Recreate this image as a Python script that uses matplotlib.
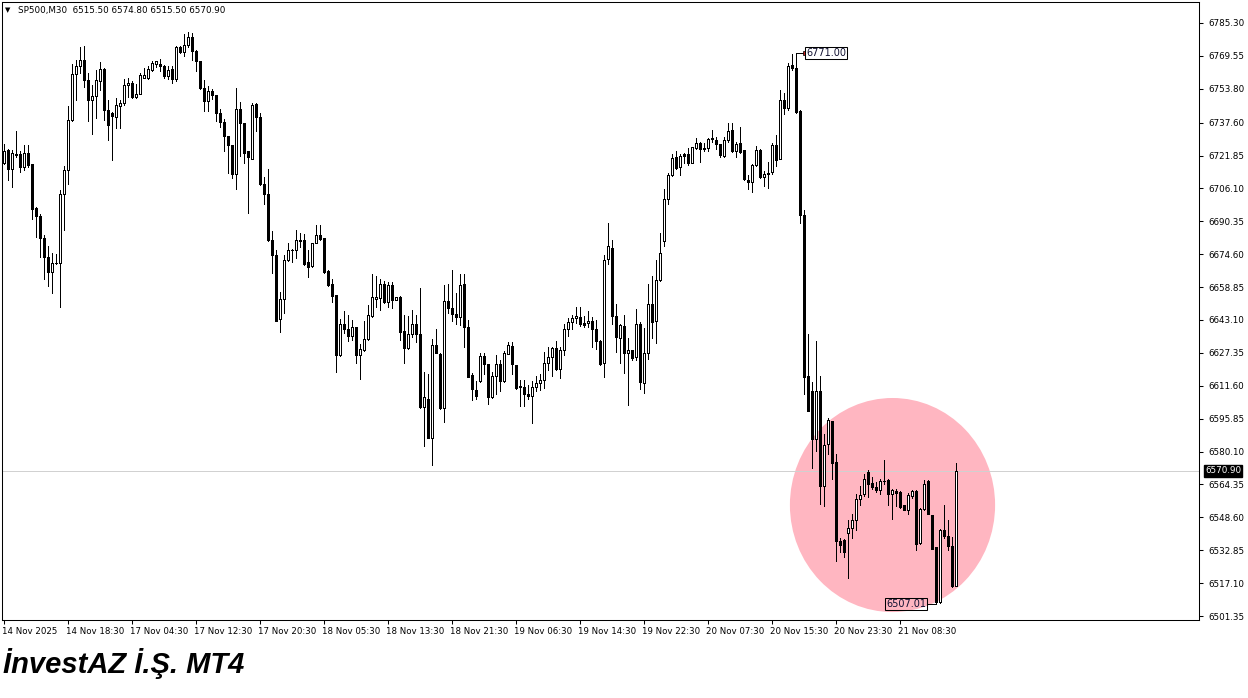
import matplotlib
matplotlib.use("Agg")
import matplotlib.pyplot as plt
import matplotlib.transforms as mtransforms
from matplotlib.patches import Ellipse
import numpy as np

opens = [
    6718.4, 6724.3, 6715.5, 6722.7, 6722.4, 6716.3, 6723.0, 6717.6, 6696.8, 6693.1,
    6682.4, 6673.4, 6665.9, 6670.4, 6670.4, 6703.5, 6715.0, 6739.0, 6761.1, 6764.6,
    6767.8, 6757.9, 6748.3, 6750.2, 6757.4, 6763.5, 6743.8, 6742.1, 6740.5, 6745.6,
    6746.9, 6755.4, 6756.5, 6749.8, 6751.5, 6759.2, 6759.2, 6762.9, 6765.6, 6765.6,
    6764.5, 6759.7, 6763.4, 6758.6, 6773.6, 6771.4, 6774.6, 6778.4, 6771.7, 6766.9,
    6754.4, 6748.0, 6752.7, 6750.8, 6742.0, 6738.0, 6731.1, 6726.8, 6712.9, 6743.9,
    6737.2, 6723.9, 6720.4, 6746.5, 6740.1, 6708.4, 6703.6, 6681.5, 6674.3, 6643.4,
    6653.2, 6671.6, 6676.4, 6676.7, 6681.2, 6681.2, 6670.8, 6669.1, 6680.1, 6683.8,
    6682.2, 6666.7, 6660.3, 6655.0, 6626.2, 6641.1, 6639.0, 6635.3, 6639.5, 6626.2,
    6628.9, 6634.2, 6644.9, 6653.3, 6653.4, 6660.3, 6651.8, 6659.8, 6652.9, 6654.2,
    6637.7, 6629.9, 6636.6, 6641.1, 6636.3, 6601.4, 6605.4, 6586.7, 6631.0, 6627.0,
    6601.1, 6652.3, 6648.6, 6645.9, 6644.6, 6660.3, 6639.5, 6616.6, 6609.7, 6613.9,
    6625.7, 6621.9, 6606.2, 6616.1, 6622.2, 6613.9, 6627.0, 6630.6, 6621.5, 6611.4,
    6610.8, 6607.6, 6606.6, 6610.8, 6612.7, 6614.3, 6622.6, 6625.2, 6629.5, 6619.4,
    6628.7, 6638.6, 6642.3, 6643.9, 6644.7, 6641.8, 6641.5, 6642.8, 6638.6, 6633.2,
    6622.4, 6672.5, 6677.8, 6644.8, 6634.6, 6640.0, 6627.2, 6628.5, 6625.3, 6641.0,
    6612.8, 6627.2, 6650.6, 6642.6, 6662.1, 6681.0, 6700.8, 6712.5, 6721.0, 6716.2,
    6722.6, 6722.6, 6718.4, 6725.3, 6727.7, 6725.3, 6725.3, 6730.0, 6729.5, 6727.3,
    6721.5, 6729.5, 6734.0, 6724.1, 6727.6, 6724.4, 6710.3, 6709.2, 6717.2, 6724.7,
    6711.6, 6713.2, 6714.0, 6726.8, 6720.4, 6748.4, 6744.4, 6765.2, 6763.6, 6743.3,
    6693.2, 6616.4, 6609.2, 6586.0, 6609.2, 6563.6, 6583.9, 6594.5, 6575.3, 6537.2,
    6537.9, 6541.1, 6543.7, 6547.5, 6557.6, 6559.7, 6570.4, 6565.1, 6563.2, 6561.9,
    6566.1, 6566.4, 6560.0, 6561.3, 6560.8, 6554.4, 6552.0, 6558.7, 6561.3, 6536.3,
    6552.8, 6566.1, 6549.6, 6534.4, 6508.0, 6542.7, 6539.5, 6534.7, 6515.5,
]
highs = [
    6727.2, 6725.0, 6724.6, 6733.6, 6724.0, 6726.7, 6727.0, 6717.6, 6697.1, 6693.9,
    6684.0, 6678.7, 6675.0, 6674.7, 6705.1, 6716.6, 6745.4, 6765.9, 6767.5, 6773.9,
    6774.2, 6761.4, 6755.5, 6763.0, 6766.5, 6763.8, 6748.6, 6742.9, 6749.6, 6748.5,
    6758.6, 6759.2, 6757.6, 6756.0, 6761.3, 6763.7, 6764.5, 6767.2, 6767.2, 6768.2,
    6765.0, 6764.5, 6764.5, 6774.1, 6774.1, 6780.0, 6781.0, 6780.5, 6772.5, 6767.2,
    6758.1, 6754.9, 6753.6, 6751.0, 6743.9, 6739.1, 6731.3, 6727.0, 6754.0, 6747.6,
    6737.4, 6724.2, 6746.8, 6746.9, 6742.3, 6711.6, 6715.6, 6685.7, 6676.7, 6656.4,
    6674.0, 6679.9, 6677.2, 6686.0, 6684.7, 6684.1, 6676.4, 6680.1, 6688.6, 6688.6,
    6682.4, 6666.9, 6662.5, 6655.2, 6643.8, 6647.5, 6645.4, 6643.3, 6639.7, 6631.5,
    6642.7, 6650.2, 6665.1, 6664.1, 6662.5, 6661.9, 6661.4, 6661.4, 6654.2, 6654.4,
    6645.4, 6644.9, 6647.8, 6645.4, 6658.2, 6618.2, 6617.4, 6634.2, 6639.0, 6627.2,
    6659.8, 6660.3, 6667.0, 6656.1, 6665.1, 6665.1, 6643.0, 6617.7, 6613.9, 6627.3,
    6627.3, 6622.1, 6618.2, 6626.2, 6624.1, 6628.3, 6632.6, 6632.7, 6621.7, 6614.6,
    6614.6, 6611.9, 6614.0, 6616.2, 6617.2, 6627.9, 6630.0, 6630.0, 6633.2, 6630.0,
    6641.2, 6643.9, 6645.5, 6649.2, 6649.2, 6645.0, 6647.6, 6644.7, 6643.1, 6633.4,
    6674.1, 6689.3, 6681.3, 6650.6, 6641.0, 6645.3, 6634.6, 6628.7, 6648.5, 6642.1,
    6639.4, 6660.2, 6664.0, 6672.0, 6684.8, 6705.6, 6713.6, 6722.6, 6724.2, 6722.6,
    6723.2, 6725.3, 6725.8, 6730.1, 6728.5, 6727.7, 6730.1, 6734.3, 6730.5, 6727.5,
    6730.5, 6737.2, 6737.2, 6728.4, 6735.3, 6724.6, 6712.4, 6717.7, 6726.3, 6724.9,
    6714.5, 6718.8, 6727.6, 6731.6, 6753.2, 6751.6, 6766.3, 6770.5, 6771.0, 6743.5,
    6695.9, 6636.4, 6613.2, 6633.2, 6616.4, 6588.4, 6596.4, 6594.7, 6578.8, 6538.5,
    6538.4, 6547.2, 6550.1, 6560.0, 6563.5, 6569.3, 6571.2, 6568.0, 6565.6, 6567.2,
    6576.0, 6567.2, 6562.4, 6562.4, 6561.0, 6554.6, 6560.3, 6561.9, 6561.5, 6553.3,
    6566.7, 6566.4, 6549.8, 6534.6, 6543.2, 6554.4, 6547.2, 6539.2, 6574.8,
]
lows = [
    6717.9, 6709.9, 6706.7, 6721.1, 6713.9, 6714.7, 6716.3, 6691.5, 6682.7, 6673.4,
    6662.7, 6659.5, 6655.8, 6670.0, 6649.1, 6686.2, 6708.3, 6738.5, 6748.3, 6761.4,
    6754.7, 6738.4, 6732.3, 6740.0, 6753.1, 6739.0, 6729.1, 6719.7, 6735.2, 6735.2,
    6746.1, 6750.1, 6749.3, 6749.3, 6751.3, 6758.9, 6758.6, 6762.1, 6764.0, 6762.4,
    6758.9, 6758.6, 6756.8, 6757.3, 6770.9, 6769.3, 6773.6, 6767.7, 6762.4, 6753.8,
    6743.2, 6743.2, 6748.7, 6738.5, 6735.3, 6724.1, 6713.5, 6711.3, 6705.8, 6721.5,
    6718.3, 6694.3, 6720.2, 6733.7, 6707.6, 6698.8, 6680.9, 6665.5, 6642.5, 6637.2,
    6646.3, 6671.3, 6670.8, 6672.9, 6678.0, 6669.2, 6663.9, 6668.6, 6679.8, 6681.4,
    6665.7, 6659.3, 6651.8, 6618.2, 6626.0, 6636.9, 6633.1, 6633.4, 6622.5, 6615.0,
    6628.3, 6633.7, 6644.6, 6649.1, 6647.8, 6651.3, 6649.1, 6648.6, 6652.9, 6633.7,
    6622.5, 6629.4, 6635.0, 6632.6, 6601.0, 6583.0, 6586.5, 6573.9, 6627.1, 6600.6,
    6594.2, 6646.5, 6642.7, 6641.1, 6640.6, 6630.2, 6615.6, 6604.6, 6605.4, 6613.6,
    6617.1, 6603.0, 6605.9, 6607.8, 6609.1, 6613.4, 6626.7, 6617.2, 6610.1, 6601.8,
    6601.8, 6605.5, 6593.8, 6609.2, 6609.8, 6610.3, 6619.1, 6616.2, 6619.1, 6615.1,
    6626.3, 6635.4, 6638.6, 6641.5, 6640.2, 6639.6, 6639.9, 6630.3, 6629.0, 6621.5,
    6615.7, 6669.8, 6641.3, 6627.7, 6622.4, 6617.6, 6602.6, 6624.0, 6624.0, 6610.1,
    6608.0, 6624.5, 6634.6, 6632.0, 6661.8, 6678.4, 6698.6, 6712.0, 6715.2, 6712.5,
    6718.1, 6717.3, 6718.1, 6724.8, 6718.9, 6724.2, 6724.2, 6728.4, 6725.2, 6721.2,
    6721.2, 6728.4, 6723.6, 6720.9, 6723.1, 6710.3, 6706.0, 6704.4, 6716.7, 6711.3,
    6707.1, 6706.5, 6712.9, 6716.7, 6720.2, 6741.7, 6743.6, 6762.8, 6742.3, 6689.5,
    6607.6, 6599.4, 6572.4, 6580.4, 6554.8, 6554.0, 6578.8, 6566.8, 6527.6, 6532.0,
    6529.5, 6519.7, 6538.9, 6542.7, 6554.4, 6558.7, 6558.4, 6562.4, 6560.8, 6560.0,
    6564.8, 6554.4, 6548.0, 6553.9, 6553.3, 6552.0, 6550.1, 6558.1, 6533.1, 6536.0,
    6552.3, 6550.0, 6533.4, 6507.01, 6507.5, 6538.9, 6532.8, 6515.2, 6515.5,
]
closes = [
    6724.0, 6715.5, 6723.2, 6722.2, 6716.3, 6723.2, 6717.1, 6696.3, 6692.8, 6682.4,
    6673.4, 6665.9, 6670.4, 6670.6, 6703.5, 6715.0, 6739.0, 6761.1, 6764.6, 6767.8,
    6758.2, 6748.3, 6750.2, 6757.9, 6763.5, 6743.8, 6736.3, 6740.8, 6745.8, 6746.9,
    6755.4, 6756.5, 6749.8, 6751.5, 6760.2, 6760.2, 6763.4, 6766.1, 6766.9, 6764.5,
    6759.7, 6762.9, 6758.6, 6773.6, 6771.4, 6774.6, 6778.4, 6771.7, 6766.9, 6754.4,
    6748.0, 6752.5, 6750.8, 6742.3, 6738.0, 6731.1, 6726.8, 6712.9, 6743.9, 6737.5,
    6723.1, 6721.2, 6746.0, 6740.1, 6708.1, 6703.3, 6681.2, 6674.3, 6642.8, 6653.2,
    6671.9, 6676.4, 6676.6, 6681.2, 6680.9, 6670.0, 6668.7, 6680.1, 6683.8, 6681.7,
    6666.2, 6659.8, 6654.5, 6626.2, 6641.4, 6639.0, 6635.3, 6639.5, 6626.2, 6629.4,
    6634.2, 6645.4, 6653.9, 6653.9, 6660.3, 6651.8, 6659.8, 6652.9, 6654.2, 6637.4,
    6629.9, 6636.6, 6641.1, 6636.6, 6601.4, 6606.2, 6586.7, 6631.0, 6627.3, 6601.1,
    6652.3, 6648.6, 6645.9, 6644.6, 6659.8, 6639.5, 6615.8, 6610.2, 6606.5, 6625.7,
    6621.9, 6606.2, 6616.1, 6622.2, 6613.9, 6627.3, 6631.0, 6622.0, 6610.3, 6610.8,
    6607.6, 6606.6, 6610.8, 6612.7, 6614.3, 6622.6, 6625.2, 6629.5, 6619.4, 6628.7,
    6638.6, 6642.3, 6643.9, 6645.0, 6641.2, 6640.7, 6642.8, 6638.6, 6633.2, 6622.0,
    6672.0, 6678.4, 6644.8, 6634.9, 6640.5, 6627.2, 6628.8, 6625.0, 6641.0, 6613.3,
    6627.2, 6650.9, 6642.1, 6662.4, 6675.2, 6700.8, 6712.5, 6720.5, 6715.7, 6721.6,
    6721.6, 6718.1, 6725.8, 6727.7, 6724.8, 6724.8, 6729.6, 6729.8, 6727.3, 6722.0,
    6729.5, 6733.7, 6724.1, 6727.3, 6723.6, 6710.8, 6709.2, 6717.2, 6724.7, 6711.6,
    6713.2, 6713.5, 6726.8, 6719.9, 6748.4, 6744.4, 6764.7, 6763.6, 6742.8, 6693.2,
    6615.9, 6599.6, 6586.0, 6609.2, 6563.6, 6583.3, 6595.1, 6574.8, 6537.2, 6535.5,
    6532.0, 6543.7, 6547.5, 6557.6, 6559.2, 6567.2, 6564.5, 6562.9, 6561.9, 6566.1,
    6565.9, 6560.0, 6561.6, 6560.3, 6553.6, 6552.3, 6559.2, 6561.3, 6535.7, 6552.8,
    6564.8, 6550.1, 6533.6, 6508.0, 6542.7, 6539.5, 6534.7, 6515.5, 6570.9,
]

x_tick_labels = ["14 Nov 2025", "14 Nov 18:30", "17 Nov 04:30", "17 Nov 12:30",
                 "17 Nov 20:30", "18 Nov 05:30", "18 Nov 13:30", "18 Nov 21:30",
                 "19 Nov 06:30", "19 Nov 14:30", "19 Nov 22:30", "20 Nov 07:30",
                 "20 Nov 15:30", "20 Nov 23:30", "21 Nov 08:30"]
x_tick_every = 16
y_tick_values = [6785.30, 6769.55, 6753.80, 6737.60, 6721.85, 6706.10, 6690.35,
                 6674.60, 6658.85, 6643.10, 6627.35, 6611.60, 6595.85, 6580.10,
                 6564.35, 6548.60, 6532.85, 6517.10, 6501.35]
header = "SP500,M30  6515.50 6574.80 6515.50 6570.90"
last_price = 6570.90
label_high_idx, label_high = 198, 6771.00
label_low_idx, label_low = 233, 6507.01
footer = "İnvestAZ İ.Ş. MT4"

o = np.array(opens); h = np.array(highs); l = np.array(lows); c = np.array(closes)
n = len(o)
x = np.arange(n)

W, H = 1248, 698
fig = plt.figure(figsize=(W / 100, H / 100), dpi=100)
fig.patch.set_facecolor("white")
ax = fig.add_axes([2 / W, 78 / H, 1197 / W, 618 / H])
ax.set_xlim(-0.425, 298.825)
ax.set_ylim(6499.45, 6795.35)

# highlight circle
ell = Ellipse((222.2, 6554.5), width=51.3, height=102.5, facecolor="#FFB6C1",
              edgecolor="none", zorder=1)
ax.add_patch(ell)

# current price line
ax.axhline(last_price, color="#d0d0d0", lw=0.7, zorder=2)

# candles
LW = 0.7
ax.vlines(x, l, h, color="black", lw=LW, zorder=3, antialiased=False)
up = c >= o
ax.bar(x[~up], (c - o)[~up], bottom=o[~up], width=0.5, color="black",
       edgecolor="black", linewidth=LW, zorder=4, antialiased=False)
ax.bar(x[up], (c - o)[up], bottom=o[up], width=0.5, color="white",
       edgecolor="black", linewidth=LW, zorder=4, antialiased=False)

# high / low labels
ax.plot([label_high_idx, label_high_idx + 2.5], [label_high, label_high],
        color="black", lw=LW, zorder=5)
ax.plot([label_high_idx + 2.3], [label_high], marker="s", ms=2.5, mfc="#cc2222",
        mec="black", mew=0.5, zorder=6)
ax.text(label_high_idx + 2.65, label_high, f"{label_high:.2f}", fontsize=7,
        color="#101030", ha="left", va="center", zorder=6,
        bbox=dict(boxstyle="square,pad=0.12", fc="white", ec="black", lw=0.75))
ax.plot([label_low_idx - 2.3, label_low_idx], [label_low, label_low],
        color="black", lw=LW, zorder=5)
ax.text(label_low_idx - 2.4, label_low, f"{label_low:.2f}", fontsize=7,
        color="#101030", ha="right", va="center", zorder=6,
        bbox=dict(boxstyle="square,pad=0.12", fc="none", ec="black", lw=0.75))

# axes styling
for s in ax.spines.values():
    s.set_linewidth(0.75)
    s.set_color("black")
ax.yaxis.tick_right()
ax.set_yticks(y_tick_values)
ax.set_yticklabels([f"{v:.2f}" for v in y_tick_values], fontsize=6.3)
ax.tick_params(axis="y", direction="out", length=3, width=0.75, pad=4)
xt = np.arange(0, len(x_tick_labels) * x_tick_every, x_tick_every)
ax.set_xticks(xt)
ax.set_xticklabels(x_tick_labels, fontsize=6.2, ha="left")
ax.tick_params(axis="x", direction="out", length=3, width=0.75, pad=2)
off = mtransforms.ScaledTranslation(-1.5 / 100, 0, fig.dpi_scale_trans)
for lab in ax.get_xticklabels():
    lab.set_transform(lab.get_transform() + off)

# current price tag
ax.annotate(f"{last_price:.2f}", xy=(1, last_price), xycoords=("axes fraction", "data"),
            xytext=(6, 0), textcoords="offset pixels", ha="left", va="center",
            fontsize=6.3, color="white", zorder=10, annotation_clip=False,
            bbox=dict(boxstyle="square,pad=0.15", fc="black", ec="black"))

# header
fig.text(5 / W, 1 - 10 / H, "▼", fontsize=5, ha="left", va="center", color="black")
fig.text(18 / W, 1 - 10 / H, header, fontsize=6.3, ha="left", va="center", color="black")

# footer
fig.text(3 / W, (H - 673) / H, footer, fontsize=21, fontweight="bold", fontstyle="italic",
         family="Liberation Sans", ha="left", va="baseline", color="black")

fig.savefig("out.png", dpi=100, facecolor="white")
